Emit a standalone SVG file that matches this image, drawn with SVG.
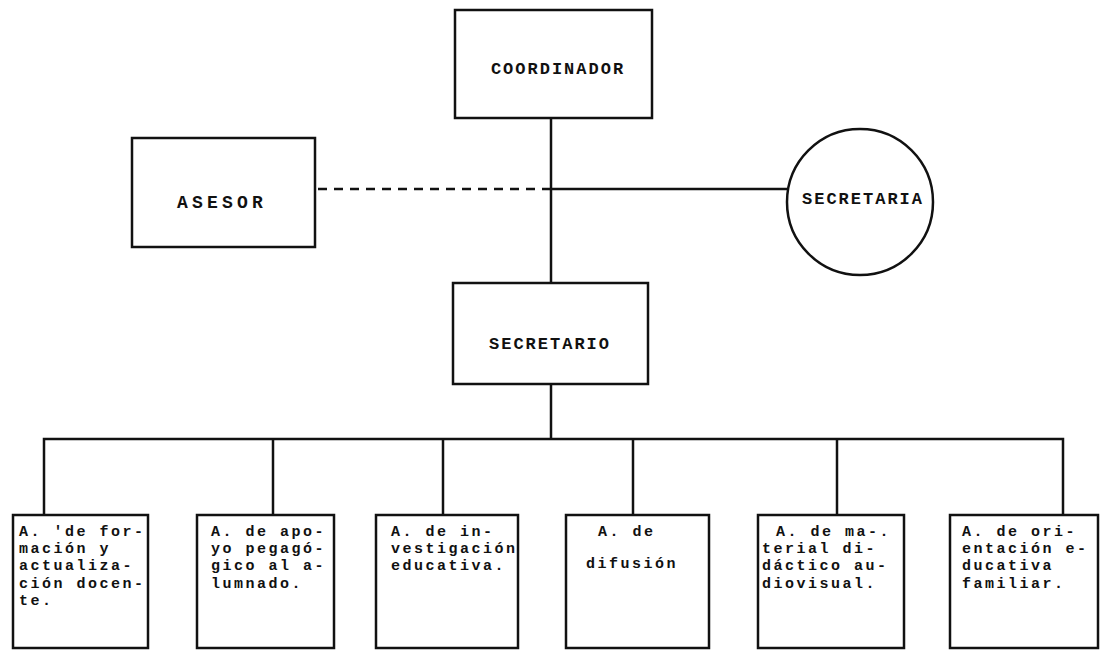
<svg xmlns="http://www.w3.org/2000/svg" width="1102" height="652" viewBox="0 0 1102 652">
<style>
.box{fill:#fff;stroke:#111;stroke-width:2.5}
.ln{stroke:#111;stroke-width:2.5;fill:none}
.dash{stroke:#111;stroke-width:2.5;fill:none;stroke-dasharray:9,7}
.h{font-family:"Liberation Mono","DejaVu Sans Mono",monospace;font-size:17px;font-weight:bold;letter-spacing:2px;fill:#111;text-anchor:middle}
.t{font-family:"Liberation Mono","DejaVu Sans Mono",monospace;font-size:15px;font-weight:bold;letter-spacing:2.5px;fill:#111}
</style>
<rect width="1102" height="652" fill="#fff"/>
<g id="connectors">
<line class="ln" x1="551" y1="118" x2="551" y2="283"/>
<line class="dash" x1="318" y1="189" x2="551" y2="189"/>
<line class="ln" x1="551" y1="189" x2="787" y2="189"/>
<line class="ln" x1="551" y1="384" x2="551" y2="439"/>
<polyline class="ln" points="44,515 44,439 1063,439 1063,515"/>
<line class="ln" x1="273" y1="439" x2="273" y2="515"/>
<line class="ln" x1="443" y1="439" x2="443" y2="515"/>
<line class="ln" x1="633" y1="439" x2="633" y2="515"/>
<line class="ln" x1="837" y1="439" x2="837" y2="515"/>
</g>
<g id="coordinador">
<rect class="box" x="455" y="10" width="197" height="108"/>
<text class="h" x="558" y="74">COORDINADOR</text>
</g>
<g id="asesor">
<rect class="box" x="132" y="138" width="183" height="109"/>
<text class="h" x="222" y="208" style="letter-spacing:4.2px;font-size:18px">ASESOR</text>
</g>
<g id="secretaria">
<circle class="box" cx="860" cy="202" r="73"/>
<text class="h" x="863" y="204">SECRETARIA</text>
</g>
<g id="secretario">
<rect class="box" x="453" y="283" width="195" height="101"/>
<text class="h" x="550" y="349">SECRETARIO</text>
</g>
<g id="area1">
<rect class="box" x="13" y="515" width="135" height="133"/>
<text class="t" x="19" y="536"><tspan x="19">A. 'de for-</tspan><tspan x="19" dy="17.2">mación y</tspan><tspan x="19" dy="17.2">actualiza-</tspan><tspan x="19" dy="17.2">ción docen-</tspan><tspan x="19" dy="17.2">te.</tspan></text>
</g>
<g id="area2">
<rect class="box" x="197" y="515" width="137" height="133"/>
<text class="t" x="211" y="536"><tspan x="211">A. de apo-</tspan><tspan x="211" dy="17.2">yo pegagó-</tspan><tspan x="211" dy="17.2">gico al a-</tspan><tspan x="211" dy="17.2">lumnado.</tspan></text>
</g>
<g id="area3">
<rect class="box" x="376" y="515" width="142" height="133"/>
<text class="t" x="391" y="536"><tspan x="391">A. de in-</tspan><tspan x="391" dy="17.2">vestigación</tspan><tspan x="391" dy="17.2">educativa.</tspan></text>
</g>
<g id="area4">
<rect class="box" x="566" y="515" width="143" height="133"/>
<text class="t" x="598" y="536"><tspan x="598">A. de</tspan><tspan x="586" dy="32">difusión</tspan></text>
</g>
<g id="area5">
<rect class="box" x="758" y="515" width="146" height="133"/>
<text class="t" x="762" y="536"><tspan x="776">A. de ma-.</tspan><tspan x="762" dy="17.2">terial di-</tspan><tspan x="762" dy="17.2">dáctico au-</tspan><tspan x="762" dy="17.2">diovisual.</tspan></text>
</g>
<g id="area6">
<rect class="box" x="950" y="515" width="148" height="133"/>
<text class="t" x="962" y="536"><tspan x="962">A. de ori-</tspan><tspan x="962" dy="17.2">entación e-</tspan><tspan x="962" dy="17.2">ducativa</tspan><tspan x="962" dy="17.2">familiar.</tspan></text>
</g>
</svg>
